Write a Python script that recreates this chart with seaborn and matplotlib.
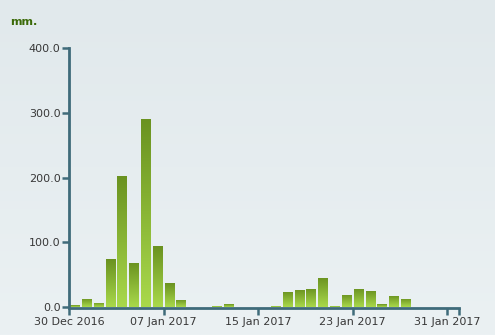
import numpy as np
import pandas as pd
import seaborn as sns
import matplotlib.pyplot as plt
from matplotlib.colors import LinearSegmentedColormap

# daily rainfall, 30 Dec 2016 .. 31 Jan 2017
days = pd.date_range("2016-12-30", "2017-01-31", freq="D")
rain_mm = [2.5, 13, 6.5, 74, 203, 68, 291, 94, 37, 11,
           0, 0, 2, 4.5, 0, 0, 0, 2, 23.5, 26.5,
           28, 45, 2, 19, 28, 25, 4.5, 17.5, 12.5, 0,
           0, 0, 0]
tick_days = [0, 8, 16, 24, 32]
tick_labels = ["30 Dec 2016", "07 Jan 2017", "15 Jan 2017", "23 Jan 2017", "31 Jan 2017"]
y_ticks = [0, 100, 200, 300, 400]

axis_col = "#3f6b7a"
text_col = "#383838"

df = pd.DataFrame({"day": np.arange(len(days)) + 0.5, "rain": rain_mm})

sns.set_style("white")
fig = plt.figure(figsize=(4.95, 3.35), dpi=100)

# soft background gradient over the whole figure
bg = fig.add_axes([0, 0, 1, 1], zorder=-1)
bg_cmap = LinearSegmentedColormap.from_list("bg", ["#e1e9ec", "#ebf1f3"])
bg.imshow(np.linspace(0, 1, 256).reshape(-1, 1), aspect="auto", cmap=bg_cmap,
          extent=[0, 1, 0, 1])
bg.axis("off")

ax = fig.add_axes([69 / 495, 28 / 335, 390 / 495, 259 / 335])
ax.set_facecolor("none")

sns.barplot(data=df, x="day", y="rain", native_scale=True, width=0.82,
            color="#8cb834", saturation=1, linewidth=0, ax=ax)

# vertical green gradient inside each bar (dark top, light bottom)
bar_cmap = LinearSegmentedColormap.from_list("bar", ["#a9d94b", "#6a9220"])
grad = np.linspace(0, 1, 128).reshape(-1, 1)
for p in ax.patches:
    x0, y0 = p.get_x(), p.get_y()
    w, h = p.get_width(), p.get_height()
    if h <= 0:
        continue
    p.set_zorder(1.5)
    im = ax.imshow(grad, origin="lower", aspect="auto", cmap=bar_cmap,
                   extent=[x0, x0 + w, y0, y0 + h], zorder=2)
    im.set_clip_path(p)

ax.set_xlim(0, 33)
ax.set_ylim(0, 400)
ax.set_xticks(tick_days + [33])
ax.set_xticklabels(tick_labels + [""])
ax.set_yticks(y_ticks)
ax.set_yticklabels([f"{v:.1f}" for v in y_ticks])
ax.set_xlabel("")
ax.set_ylabel("")

for side in ["top", "right"]:
    ax.spines[side].set_visible(False)
for side in ["left", "bottom"]:
    ax.spines[side].set_color(axis_col)
    ax.spines[side].set_linewidth(2)
# axis line sits just under the bars, so tiny values stay visible
ax.spines["bottom"].set_position(("outward", 1))

ax.tick_params(axis="both", colors=axis_col, width=1.8, length=5,
               labelcolor=text_col, labelsize=8)
ax.tick_params(axis="y", pad=1)
ax.tick_params(axis="x", pad=1)
ax.tick_params(bottom=True, left=True)

fig.text(10 / 495, 1 - 22 / 335, "mm.", color="#3b6a08", fontsize=8,
         fontweight="bold", va="center", ha="left")

fig.savefig("out.png", dpi=100)
